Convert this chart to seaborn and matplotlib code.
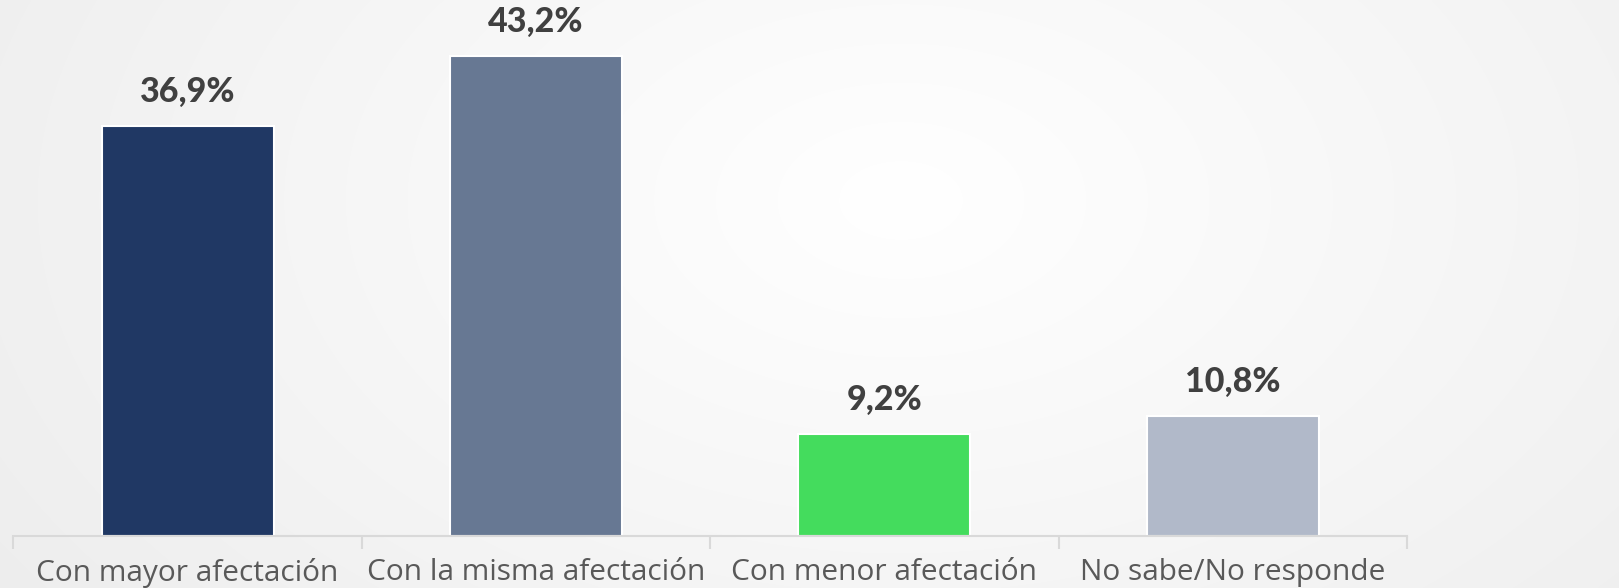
import numpy as np
import pandas as pd
import matplotlib
matplotlib.use("Agg")
import matplotlib.pyplot as plt
import seaborn as sns

# datos
categorias = ['Con mayor afectación', 'Con la misma afectación',
              'Con menor afectación', 'No sabe/No responde']
valores = [36.9, 43.2, 9.2, 10.8]
etiquetas = ['36,9%', '43,2%', '9,2%', '10,8%']
colores = ['#203864', '#677893', '#44DC5D', '#B1B9C9']

df = pd.DataFrame({'cat': categorias, 'val': valores})

sns.set_style("white")
plt.rcParams['font.family'] = ['Open Sans', 'DejaVu Sans']

fig = plt.figure(figsize=(16.19, 5.88), dpi=100)

# fondo con degradado radial
bg = fig.add_axes([0, 0, 1, 1], zorder=0)
yy, xx = np.mgrid[0:588, 0:1619]
d = np.sqrt(((xx - 900) / 1100.0) ** 2 + ((yy - 200) / 700.0) ** 2)
g = 1.0 - 0.07 * np.clip(d, 0, 1)
bg.imshow(np.dstack([g, g, g]), aspect='auto', extent=[0, 1, 0, 1])
bg.axis('off')

ax = fig.add_axes([0.0083, 0.0884, 0.8607, 0.9116], zorder=1)
ax.patch.set_alpha(0)
sns.barplot(data=df, x='cat', y='val', hue='cat', palette=colores,
            legend=False, width=0.494, edgecolor='white', linewidth=1.5,
            saturation=1, ax=ax)

ax.set_ylim(0, 48.25)
ax.set_xlim(-0.5, 3.5)
ax.set_xlabel('')
ax.set_ylabel('')
ax.set_yticks([])

for s in ['top', 'right', 'left']:
    ax.spines[s].set_visible(False)
ax.spines['bottom'].set_color('#D9D9D9')
ax.spines['bottom'].set_linewidth(1.5)

ax.set_xticks(range(4))
ax.set_xticklabels(categorias, fontsize=21.5, color='#595959')
ax.tick_params(axis='x', which='major', length=0, pad=16, bottom=True)
ax.set_xticks(np.arange(-0.5, 4, 1), minor=True)
ax.tick_params(axis='x', which='minor', length=9, width=1.5, bottom=True,
               color='#D9D9D9', direction='out')

for i, (v, t) in enumerate(zip(valores, etiquetas)):
    ax.annotate(t, xy=(i, v), xytext=(0, 13), textcoords='offset points',
                ha='center', va='bottom', fontsize=24.5, fontweight='black',
                color='#404040', family=['Lato', 'DejaVu Sans'])

plt.savefig('out.png', dpi=100)
